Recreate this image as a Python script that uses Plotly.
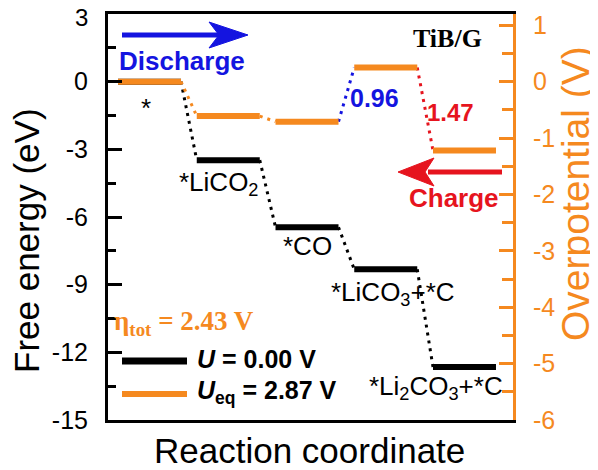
import plotly.graph_objects as go

# ---------------- data ----------------
steps = ["*", "*LiCO<sub>2</sub>", "*CO", "*LiCO<sub>3</sub>+*C", "*Li<sub>2</sub>CO<sub>3</sub>+*C"]
free_energy = [0.0, -3.48, -6.45, -8.32, -12.65]      # eV at U = 0.00 V
overpotential = [0.0, -0.61, -0.71, 0.25, -1.22]      # V at U_eq = 2.87 V
jump_labels = ["0.96", "1.47"]
left_ticks = [3, 0, -3, -6, -9, -12, -15]
right_ticks = [1, 0, -1, -2, -3, -4, -5, -6]

# ---------------- style ----------------
ORANGE = "#F5891F"
BLUE = "#1414E0"
RED = "#E6141E"
BLACK = "#000000"
SANS = "Liberation Sans, Arial, sans-serif"
SERIF = "Liberation Serif, Times New Roman, serif"
STEP = 1.25
WIDTH = 1.0

OFF = 8                      # page body margin
W, H = 598 - OFF, 470 - OFF
PL, PR, PT, PB = 108, 513, 14, 420   # plot area in window pixels
ML, MT = PL - OFF, PT - OFF
MR, MB = W - (PR - OFF), H - (PB - OFF)
Y_RANGE = [min(left_ticks), max(left_ticks)]


def px(x):
    return (x - PL) / (PR - PL)


def py(y):
    return (PB - y) / (PB - PT)


fig = go.Figure()

# overpotential (orange) levels, right axis
conn_colors = [ORANGE, ORANGE, BLUE, RED]
for i in range(len(overpotential) - 1):
    fig.add_trace(go.Scatter(
        x=[i * STEP + WIDTH, (i + 1) * STEP],
        y=[overpotential[i], overpotential[i + 1]],
        yaxis="y2", mode="lines", hoverinfo="skip", showlegend=False,
        line=dict(color=conn_colors[i], width=3, dash="3px,5px")))
for i, v in enumerate(overpotential):
    fig.add_trace(go.Scatter(
        x=[i * STEP, i * STEP + WIDTH], y=[v, v], yaxis="y2",
        mode="lines", showlegend=False,
        line=dict(color=ORANGE, width=6)))

# free energy (black) levels, left axis
for i in range(len(free_energy) - 1):
    fig.add_trace(go.Scatter(
        x=[i * STEP + WIDTH, (i + 1) * STEP],
        y=[free_energy[i], free_energy[i + 1]],
        mode="lines", hoverinfo="skip", showlegend=False,
        line=dict(color=BLACK, width=3, dash="3px,5px")))
for i, v in enumerate(free_energy):
    fig.add_trace(go.Scatter(
        x=[i * STEP, i * STEP + WIDTH], y=[v, v],
        mode="lines", showlegend=False,
        line=dict(color=BLACK, width=6)))

annotations = []


def txt(text, x, y, size, color=BLACK, family=SANS, xanchor="left", angle=0):
    annotations.append(dict(
        text=text, x=px(x), y=py(y), xref="paper", yref="paper",
        xanchor=xanchor, yanchor="middle", showarrow=False, textangle=angle,
        font=dict(size=size, color=color, family=family)))


# step labels
label_pos = [(146, 108, "center"), (177, 183, "left"), (281, 246, "left"),
             (329, 293, "left"), (367, 387, "left")]
for s, (x, y, a) in zip(steps, label_pos):
    txt(s, x, y, 26, xanchor=a)

txt("<b>Discharge</b>", 117, 61, 26, BLUE)
txt("<b>Charge</b>", 407, 198, 26, RED)
txt("<b>" + jump_labels[0] + "</b>", 348, 98, 25, BLUE)
txt("<b>" + jump_labels[1] + "</b>", 425, 112, 24, RED)
txt("<b>TiB/G</b>", 411, 39, 26, BLACK, SERIF)
txt("<b>η<sub>tot</sub> = 2.43 V</b>", 112, 323, 27, ORANGE, SERIF)
txt("<b><i>U</i> = 0.00 V</b>", 195, 359, 25)
txt("<b><i>U</i><sub>eq</sub> = 2.87 V</b>", 195, 392, 25)

# top tick label of the left axis (kept inside the page)
txt(str(max(left_ticks)), 90, 17, 24, BLACK, xanchor="right")

# axis titles
txt("Free energy (eV)", 27, 241, 35, BLACK, xanchor="center", angle=-90)
txt("Overpotential (V)", 575, 194, 39, ORANGE, xanchor="center", angle=-90)
txt("Reaction coordinate", 309, 450, 35, BLACK, xanchor="center")

shapes = [
    # legend samples
    dict(type="line", xref="paper", yref="paper", x0=px(122), x1=px(187),
         y0=py(361), y1=py(361), line=dict(color=BLACK, width=7)),
    dict(type="line", xref="paper", yref="paper", x0=px(122), x1=px(187),
         y0=py(394), y1=py(394), line=dict(color=ORANGE, width=6)),
    # discharge arrow
    dict(type="line", xref="paper", yref="paper", x0=px(122), x1=px(222),
         y0=py(35), y1=py(35), line=dict(color=BLUE, width=5)),
    dict(type="path", xref="paper", yref="paper",
         path="M {} {} L {} {} L {} {} L {} {} Z".format(
             px(248), py(35), px(209), py(22), px(219), py(35), px(209), py(48)),
         fillcolor=BLUE, line=dict(color=BLUE, width=1)),
    # charge arrow
    dict(type="line", xref="paper", yref="paper", x0=px(502), x1=px(428),
         y0=py(172), y1=py(172), line=dict(color=RED, width=5)),
    dict(type="path", xref="paper", yref="paper",
         path="M {} {} L {} {} L {} {} L {} {} Z".format(
             px(398), py(172), px(434), py(158), px(425), py(172), px(434), py(186)),
         fillcolor=RED, line=dict(color=RED, width=1)),
]

left_text = ["" if v == max(left_ticks) else str(v) for v in left_ticks]

fig.update_layout(
    width=W, height=H,
    margin=dict(l=ML, r=MR, t=MT, b=MB, autoexpand=False),
    paper_bgcolor="white", plot_bgcolor="white",
    showlegend=False,
    font=dict(family=SANS, color=BLACK),
    xaxis=dict(
        range=[-0.159, 6.27], showline=True, linecolor=BLACK, linewidth=3,
        mirror=True, showticklabels=False, ticks="", showgrid=False, zeroline=False,
        automargin=False),
    yaxis=dict(
        range=Y_RANGE, tickvals=left_ticks, ticktext=left_text,
        ticks="inside", ticklen=14, tickwidth=3, ticklabeloverflow="allow",
        tickcolor=BLACK, showline=True, linecolor=BLACK, linewidth=3,
        showgrid=False, zeroline=False, ticklabelstandoff=12, automargin=False,
        tickfont=dict(size=25, family=SANS, color=BLACK),
        minor=dict(ticks="inside", ticklen=8, tickwidth=3, tickcolor=BLACK,
                   dtick=1.5, tick0=0)),
    yaxis2=dict(
        range=[-6, 1.2], tickvals=right_ticks, ticktext=[str(v) for v in right_ticks],
        overlaying="y", side="right", ticklabeloverflow="allow",
        ticks="inside", ticklen=14, tickwidth=3, tickcolor=ORANGE,
        showline=True, linecolor=ORANGE, linewidth=3, automargin=False,
        showgrid=False, zeroline=False, ticklabelstandoff=12,
        tickfont=dict(size=25, family=SANS, color=ORANGE),
        minor=dict(ticks="inside", ticklen=11, tickwidth=3, tickcolor=ORANGE,
                   dtick=0.5, tick0=0)),
    annotations=annotations,
    shapes=shapes,
)

fig.write_html("out.html")
